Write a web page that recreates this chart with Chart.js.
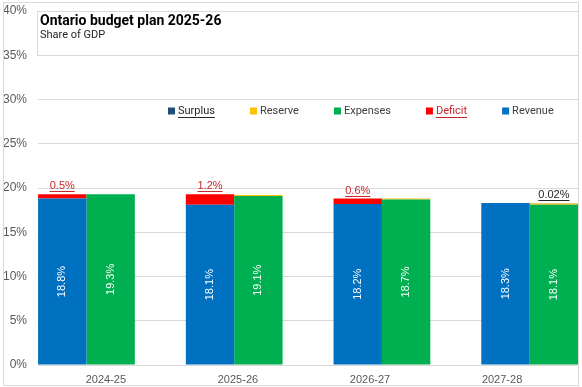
<!DOCTYPE html>
<html>
<head>
<meta charset="utf-8">
<script src="https://cdn.jsdelivr.net/npm/chart.js@4.4.1/dist/chart.umd.min.js"></script>
<style>
  html, body { margin: 0; padding: 0; background: #fff; }
</style>
</head>
<body>
<canvas id="budgetChart" width="582" height="387"></canvas>
<script>
// values (share of GDP, %)
const years = ['2024-25', '2025-26', '2026-27', '2027-28'];
const revenue = [18.8, 18.1, 18.2, 18.3];
const deficit = [0.5, 1.2, 0.6, 0];
const expenses = [19.3, 19.1, 18.7, 18.1];
const reserve = [0, 0.1, 0.1, 0.15];
const surplus = [0, 0, 0, 0.02];
const legendOrder = ['Surplus', 'Reserve', 'Expenses', 'Deficit', 'Revenue'];
const yMax = 40;
const yStep = 5;

const narrow = "'Liberation Sans Narrow', 'Liberation Sans', sans-serif";
const sans = "Roboto, 'Liberation Sans', sans-serif";

const pts = (arr) => arr.map((v, i) => ({ x: i, y: v }));
const fmt = (v) => (v < 0.1 ? v.toFixed(2) : v.toFixed(1)) + '%';

// white rotated labels inside the tall bars, underlined labels above the small ones
const barLabels = {
  id: 'barLabels',
  afterDatasetsDraw(chart) {
    const ctx = chart.ctx;
    chart.data.datasets.forEach((ds, di) => {
      const meta = chart.getDatasetMeta(di);
      meta.data.forEach((el, i) => {
        const v = ds.data[i].y;
        if (!v) return;
        ctx.save();
        ctx.font = '11px ' + narrow;
        if (ds.labelMode === 'inside') {
          ctx.translate(el.x, (el.y + el.base) / 2);
          ctx.rotate(-Math.PI / 2);
          ctx.fillStyle = '#ffffff';
          ctx.textAlign = 'center';
          ctx.textBaseline = 'middle';
          ctx.fillText(fmt(v), 0, 0);
        } else if (ds.labelMode === 'top') {
          const txt = fmt(v);
          const w = ctx.measureText(txt).width;
          ctx.fillStyle = ds.labelColor;
          ctx.strokeStyle = ds.labelColor;
          ctx.textAlign = 'center';
          ctx.textBaseline = 'alphabetic';
          ctx.fillText(txt, el.x, el.y - 5);
          ctx.lineWidth = 1;
          ctx.beginPath();
          ctx.moveTo(el.x - w / 2, Math.round(el.y - 3) + 0.5);
          ctx.lineTo(el.x + w / 2, Math.round(el.y - 3) + 0.5);
          ctx.stroke();
        }
        ctx.restore();
      });
    });
  }
};

// title box, legend row and the outer frame
const decor = {
  id: 'decor',
  afterDraw(chart) {
    const ctx = chart.ctx;
    const area = chart.chartArea;
    ctx.save();
    // title box over the top band of the plot
    const y35 = chart.scales.y.getPixelForValue(35);
    ctx.fillStyle = '#ffffff';
    ctx.fillRect(area.left, area.top, area.right - area.left, y35 - area.top);
    ctx.strokeStyle = '#d9d9d9';
    ctx.lineWidth = 1;
    ctx.strokeRect(area.left - 0.5, Math.round(area.top) + 0.5, area.right - area.left + 1, Math.round(y35 - area.top));
    ctx.fillStyle = '#000000';
    ctx.font = 'bold 14px ' + sans;
    ctx.textBaseline = 'alphabetic';
    ctx.fillText('Ontario budget plan 2025-26', area.left + 2, 25);
    ctx.fillStyle = '#262626';
    ctx.font = '11px ' + sans;
    ctx.fillText('Share of GDP', area.left + 2, 38);

    // legend
    let x = 168;
    const ly = 111;
    ctx.font = '11px ' + sans;
    ctx.textBaseline = 'middle';
    legendOrder.forEach((name) => {
      const ds = chart.data.datasets.find((d) => d.label === name);
      ctx.fillStyle = ds.backgroundColor;
      ctx.fillRect(x, ly - 3.5, 7, 7);
      const tx = x + 10;
      const w = ctx.measureText(name).width;
      const col = ds.legendUnderline ? ds.labelColor : '#404040';
      ctx.fillStyle = col;
      ctx.fillText(name, tx, ly);
      if (ds.legendUnderline) {
        ctx.strokeStyle = col;
        ctx.beginPath();
        ctx.moveTo(tx, ly + 6.5);
        ctx.lineTo(tx + w, ly + 6.5);
        ctx.stroke();
      }
      x = tx + w + 35;
    });

    // outer frame
    ctx.strokeStyle = '#d9d9d9';
    ctx.strokeRect(3.5, 2.5, 575, 383);
    ctx.restore();
  }
};

const barStyle = { borderWidth: 0, categoryPercentage: 0.655, barPercentage: 1.0 };

new Chart(document.getElementById('budgetChart'), {
  type: 'bar',
  data: {
    datasets: [
      { label: 'Revenue', data: pts(revenue), stack: 'rev', backgroundColor: '#0070C0', labelMode: 'inside', ...barStyle },
      { label: 'Expenses', data: pts(expenses), stack: 'exp', backgroundColor: '#00B050', labelMode: 'inside', ...barStyle },
      { label: 'Deficit', data: pts(deficit), stack: 'rev', backgroundColor: '#FF0000', labelMode: 'top', labelColor: '#C8262B', legendUnderline: true, ...barStyle },
      { label: 'Reserve', data: pts(reserve), stack: 'exp', backgroundColor: '#FFC000', ...barStyle },
      { label: 'Surplus', data: pts(surplus), stack: 'exp', backgroundColor: '#1F4E79', labelMode: 'top', labelColor: '#262626', legendUnderline: true, ...barStyle }
    ]
  },
  options: {
    responsive: false,
    animation: false,
    layout: { padding: { left: 3, right: 4, top: 11, bottom: 2 } },
    plugins: {
      legend: { display: false },
      tooltip: { enabled: false }
    },
    scales: {
      x: {
        type: 'linear',
        display: false,
        stacked: true,
        offset: false,
        min: -0.328,
        max: 3.327,
        afterBuildTicks: (axis) => { axis.ticks = years.map((_, i) => ({ value: i })); }
      },
      xLabels: {
        type: 'linear',
        position: 'bottom',
        offset: false,
        min: -0.514,
        max: 3.575,
        grid: { display: false, drawTicks: false, offset: false },
        border: { display: false },
        afterBuildTicks: (axis) => { axis.ticks = years.map((_, i) => ({ value: i })); },
        afterFit: (axis) => { axis.height = 20; },
        ticks: {
          autoSkip: false,
          maxRotation: 0,
          padding: 8,
          color: '#595959',
          font: { family: narrow, size: 11 },
          callback: (v) => years[v]
        }
      },
      y: {
        stacked: true,
        min: 0,
        max: yMax,
        afterFit: (axis) => { axis.width = 35; axis.paddingTop = 0; axis.paddingBottom = 0; },
        grid: { color: '#d9d9d9', drawTicks: false },
        border: { display: false },
        ticks: {
          stepSize: yStep,
          padding: 11,
          color: '#595959',
          font: { family: narrow, size: 12 },
          callback: (v) => v + '%'
        }
      }
    }
  },
  plugins: [barLabels, decor]
});
</script>
</body>
</html>
